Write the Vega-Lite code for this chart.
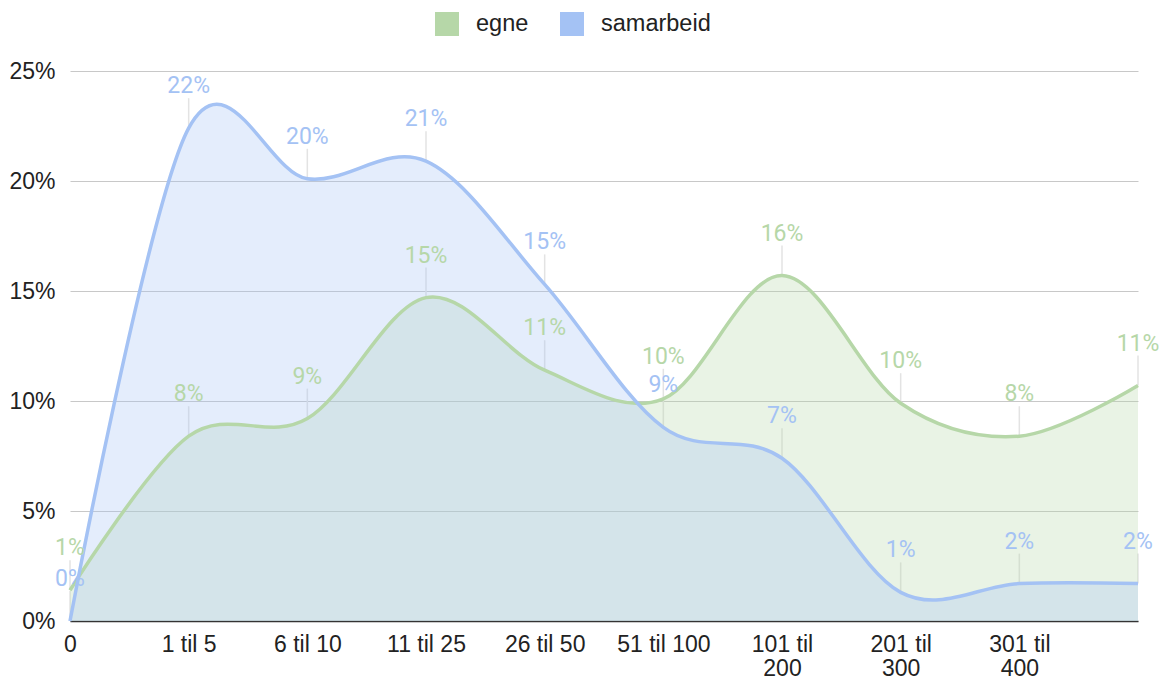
{
  "$schema": "https://vega.github.io/schema/vega-lite/v6.json",
  "autosize": {"type": "none"},
  "width": 1068,
  "height": 550,
  "padding": {"left": 70, "top": 71, "right": 31, "bottom": 59},
  "background": "white",
  "config": {
    "view": {"stroke": null},
    "font": "Liberation Sans",
    "axis": {"labelFont": "Liberation Sans", "labelFontSize": 23, "labelColor": "#222222", "title": null, "ticks": false}
  },
  "data": {
    "values": [
      {"kategori": "0", "serie": "egne", "andel": 0.014},
      {"kategori": "1 til 5", "serie": "egne", "andel": 0.084},
      {"kategori": "6 til 10", "serie": "egne", "andel": 0.092},
      {"kategori": "11 til 25", "serie": "egne", "andel": 0.147},
      {"kategori": "26 til 50", "serie": "egne", "andel": 0.114},
      {"kategori": "51 til 100", "serie": "egne", "andel": 0.101},
      {"kategori": "101 til 200", "serie": "egne", "andel": 0.157},
      {"kategori": "201 til 300", "serie": "egne", "andel": 0.099},
      {"kategori": "301 til 400", "serie": "egne", "andel": 0.084},
      {"kategori": "over 400", "serie": "egne", "andel": 0.107},
      {"kategori": "0", "serie": "samarbeid", "andel": 0.0},
      {"kategori": "1 til 5", "serie": "samarbeid", "andel": 0.224},
      {"kategori": "6 til 10", "serie": "samarbeid", "andel": 0.201},
      {"kategori": "11 til 25", "serie": "samarbeid", "andel": 0.209},
      {"kategori": "26 til 50", "serie": "samarbeid", "andel": 0.153},
      {"kategori": "51 til 100", "serie": "samarbeid", "andel": 0.088},
      {"kategori": "101 til 200", "serie": "samarbeid", "andel": 0.074},
      {"kategori": "201 til 300", "serie": "samarbeid", "andel": 0.013},
      {"kategori": "301 til 400", "serie": "samarbeid", "andel": 0.017},
      {"kategori": "over 400", "serie": "samarbeid", "andel": 0.017}
    ]
  },
  "encoding": {
    "x": {
      "field": "kategori", "type": "ordinal", "sort": null,
      "scale": {"type": "point", "padding": 0},
      "axis": {
        "labelAngle": 0, "labelPadding": 12,
        "domainColor": "#333333", "domainWidth": 1.5, "grid": false,
        "labelLineHeight": 24,
        "labelExpr": "datum.label == 'over 400' ? '' : (length(datum.label) > 10 ? [slice(datum.label, 0, 7), slice(datum.label, 8)] : datum.label)"
      }
    },
    "y": {
      "field": "andel", "type": "quantitative", "stack": null,
      "scale": {"domain": [0, 0.25], "nice": false},
      "axis": {
        "values": [0, 0.05, 0.1, 0.15, 0.2, 0.25], "format": ".0%",
        "domain": false, "labelPadding": 15, "gridColor": "#c8c8c8", "gridWidth": 1
      }
    }
  },
  "layer": [
    {
      "mark": {"type": "rule", "y2Offset": -30, "color": "#e3e3e3", "strokeWidth": 1.5},
      "encoding": {"y2": {"field": "andel"}}
    },
    {
      "mark": {"type": "area", "interpolate": "cardinal", "fillOpacity": 0.3},
      "encoding": {
        "color": {
          "field": "serie", "type": "nominal",
          "scale": {"domain": ["egne", "samarbeid"], "range": ["#b6d7a8", "#a4c2f4"]},
          "legend": {
            "orient": "none", "legendX": 365, "legendY": -59, "direction": "horizontal",
            "title": null, "symbolType": "square", "symbolSize": 576, "symbolOpacity": 1,
            "symbolStrokeWidth": 0, "labelFontSize": 23.5, "labelFont": "Liberation Sans",
            "labelColor": "#222222", "labelOffset": 17, "columnPadding": 31
          }
        }
      }
    },
    {
      "mark": {"type": "line", "interpolate": "cardinal", "strokeWidth": 3.5},
      "encoding": {"color": {"field": "serie", "type": "nominal"}}
    },
    {
      "mark": {"type": "text", "baseline": "alphabetic", "dy": -35, "font": "Roboto", "fontSize": 23},
      "encoding": {
        "color": {"field": "serie", "type": "nominal"},
        "text": {"field": "andel", "type": "quantitative", "format": ".0%"}
      }
    }
  ]
}
